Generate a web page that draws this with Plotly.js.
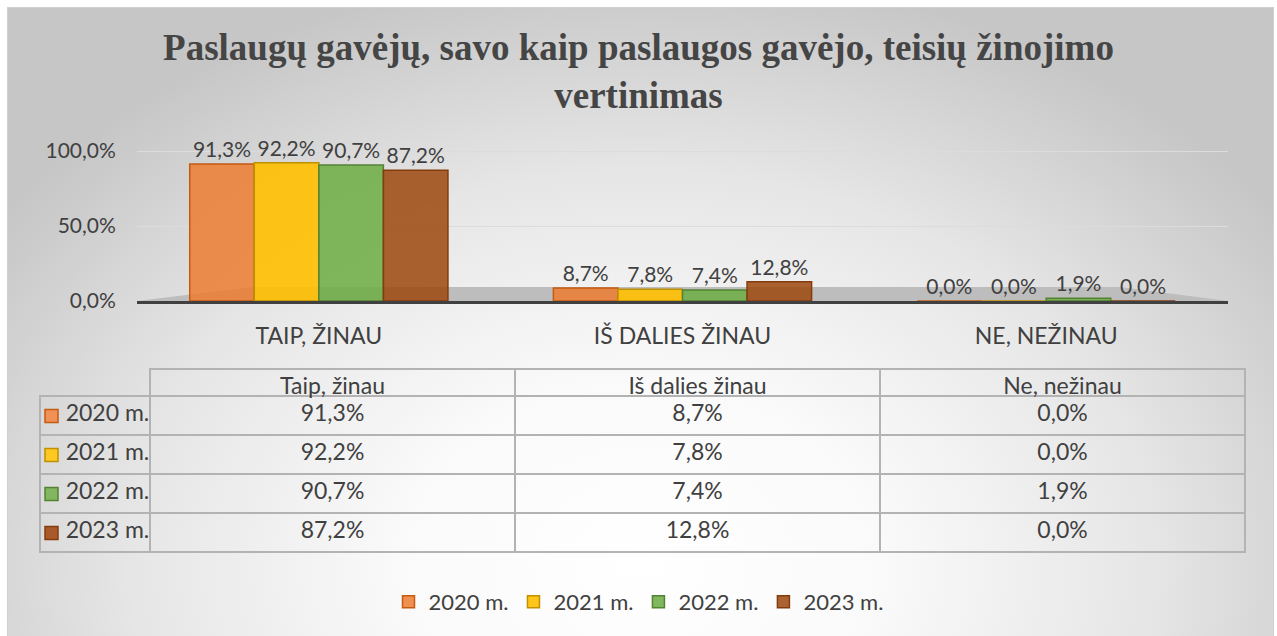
<!DOCTYPE html>
<html>
<head>
<meta charset="utf-8">
<script src="https://cdn.plot.ly/plotly-3.0.1.min.js"></script>
<style>
  html, body { margin:0; padding:0; background:#ffffff; }
  #wrap { position:relative; width:1277px; height:636px; overflow:hidden; background:#ffffff; }
  #bg { position:absolute; left:7px; top:7px; width:1265px; height:628px;
        border:1px solid #d0d0d0;
        background: radial-gradient(ellipse 62% 95% at 50% 88%, #ffffff 0%, #fafafa 30%, #e6e6e6 65%, #cfcfcf 90%, #c6c6c6 100%); }
  #chart { position:absolute; left:0; top:0; width:1277px; height:636px; }
</style>
</head>
<body>
<div id="wrap"><div id="bg"></div><div id="chart"></div></div>
<script>
// ---- data ----
const categories = ['TAIP, ŽINAU', 'IŠ DALIES ŽINAU', 'NE, NEŽINAU'];
const tableHeaders = ['Taip, žinau', 'Iš dalies žinau', 'Ne, nežinau'];
const years = ['2020 m.', '2021 m.', '2022 m.', '2023 m.'];
const v2020 = [91.3, 8.7, 0.0];
const v2021 = [92.2, 7.8, 0.0];
const v2022 = [90.7, 7.4, 1.9];
const v2023 = [87.2, 12.8, 0.0];
const yTicks = [0, 50, 100];

// ---- styles ----
const series = [v2020, v2021, v2022, v2023];
const fills = ['rgba(237,125,49,0.85)', 'rgba(255,192,0,0.9)', 'rgba(112,173,71,0.88)', 'rgba(158,72,14,0.85)'];
const lines = ['#C55A11', '#BF9000', '#548235', '#843C0C'];
const swatch = ['#F09255', '#FFC820', '#82B65F', '#A85A2A'];
const txt = '#404040';
const FONT = 'Lato, "Open Sans", sans-serif';
const W = 1277, H = 636;
const px = x => x / W;
const py = y => 1 - y / H;
const NB = '\u00a0';

const fmt = v => v.toFixed(1).replace('.', ',') + '%';

const traces = series.map((vals, i) => ({
  type: 'bar',
  name: years[i],
  x: categories,
  y: vals,
  marker: { color: fills[i], line: { color: lines[i], width: 1.5 } },
  text: vals.map(fmt),
  textposition: 'outside',
  cliponaxis: false,
  textfont: { family: FONT, size: 21, color: txt },
  hoverinfo: 'skip'
}));

// table built from the same arrays
const tableTop = 369, headerH = 27, rowH = 39;
const rowLabels = years.map(y => NB + NB + NB + y.replace(/ /g, NB));
const tableCols = [rowLabels];
categories.forEach((c, ci) => tableCols.push(series.map(s => fmt(s[ci]))));

traces.push({
  type: 'table',
  domain: { x: [px(40), px(1245)], y: [0.05, py(tableTop)] },
  columnwidth: [110, 365, 365, 365],
  header: {
    values: [''].concat(tableHeaders),
    height: headerH,
    align: 'center',
    fill: { color: 'rgba(0,0,0,0)' },
    line: { color: ['rgba(0,0,0,0)', '#b3b3b3', '#b3b3b3', '#b3b3b3'], width: 2 },
    font: { family: FONT, size: 23, color: txt }
  },
  cells: {
    values: tableCols,
    height: rowH,
    align: ['left', 'center', 'center', 'center'],
    fill: { color: 'rgba(0,0,0,0)' },
    line: { color: '#b3b3b3', width: 2 },
    font: { family: FONT, size: 23, color: txt }
  },
  showlegend: false
});

// legend-key squares in the table's first column
const swatchShapes = years.map((y, i) => {
  const cy = tableTop + headerH + rowH * i + rowH / 2;
  return {
    type: 'rect', xref: 'paper', yref: 'paper', layer: 'above',
    x0: px(45), x1: px(58), y0: py(cy + 7), y1: py(cy - 6),
    fillcolor: swatch[i], line: { color: lines[i], width: 1.5 }
  };
});

const layout = {
  width: W, height: H,
  margin: { l: 0, r: 0, t: 0, b: 0 },
  paper_bgcolor: 'rgba(0,0,0,0)',
  plot_bgcolor: 'rgba(0,0,0,0)',
  separators: ', ',
  font: { family: FONT, size: 18, color: txt },
  title: {
    text: '<b>Paslaugų gavėjų, savo kaip paslaugos gavėjo, teisių žinojimo<br>vertinimas</b>',
    font: { family: '"Liberation Serif", "DejaVu Serif", serif', size: 37, color: '#454545' },
    x: 0.5, xanchor: 'center',
    y: py(60), yanchor: 'top'
  },
  barmode: 'group',
  bargap: 0.29,
  bargroupgap: 0,
  xaxis: {
    domain: [px(137), px(1228)],
    showline: true, linecolor: '#404040', linewidth: 3,
    ticks: 'outside', ticklen: 12, tickcolor: 'rgba(0,0,0,0)',
    tickfont: { family: FONT, size: 23, color: txt },
    fixedrange: true
  },
  yaxis: {
    domain: [py(301), py(136)],
    range: [0, 110],
    tickmode: 'array',
    tickvals: yTicks,
    ticktext: yTicks.map(fmt),
    showgrid: true, gridcolor: '#dcdcdc', gridwidth: 1,
    zeroline: false, showline: false,
    ticks: 'outside', ticklen: 16, tickcolor: 'rgba(0,0,0,0)',
    tickfont: { family: FONT, size: 21, color: txt },
    fixedrange: true
  },
  shapes: [{
    type: 'path', xref: 'paper', yref: 'paper', layer: 'below',
    path: 'M ' + px(137) + ' ' + py(301) + ' L ' + px(252) + ' ' + py(287) +
          ' L ' + px(1120) + ' ' + py(287) + ' L ' + px(1228) + ' ' + py(301) + ' Z',
    fillcolor: '#bdbdbd', line: { width: 0 }
  }].concat(swatchShapes),
  showlegend: true,
  legend: {
    orientation: 'h', x: 0.5, xanchor: 'center', y: py(602), yanchor: 'middle',
    font: { family: FONT, size: 22, color: txt },
    bgcolor: 'rgba(0,0,0,0)', itemwidth: 30, traceorder: 'normal'
  }
};

Plotly.newPlot('chart', traces, layout, { displayModeBar: false, staticPlot: true });
</script>
</body>
</html>
